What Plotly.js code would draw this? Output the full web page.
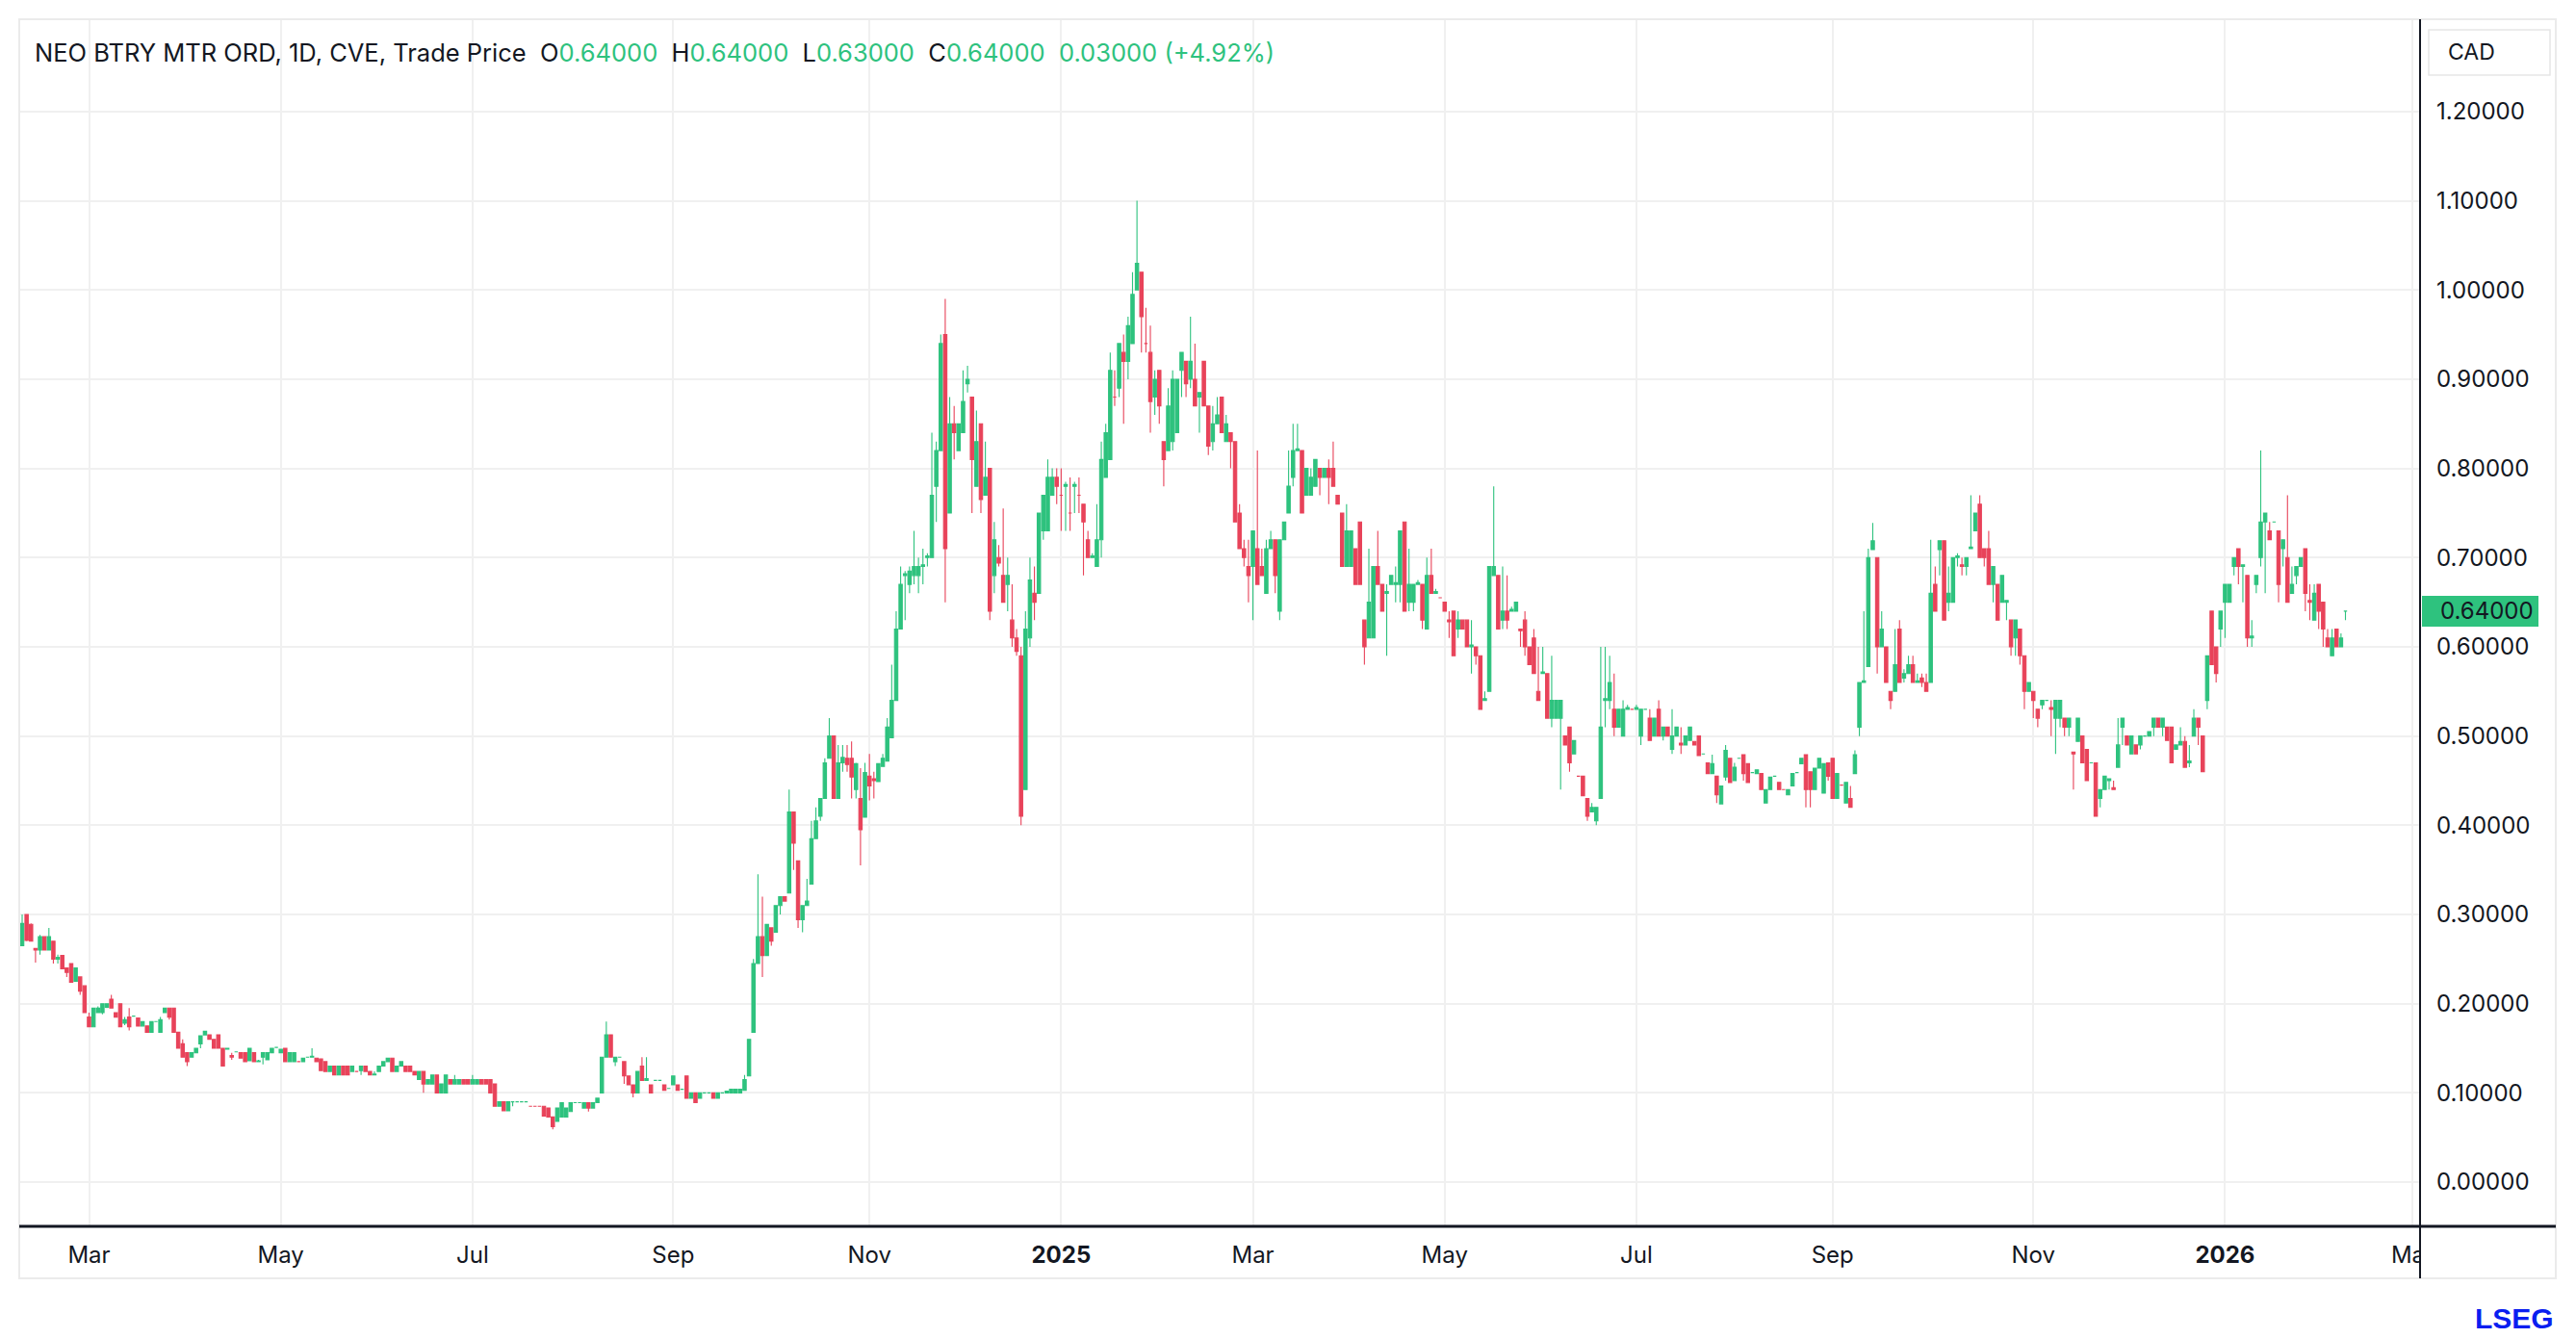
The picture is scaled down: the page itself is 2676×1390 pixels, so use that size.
<!DOCTYPE html>
<html>
<head>
<meta charset="utf-8">
<script src="https://cdn.plot.ly/plotly-3.0.1.min.js"></script>
<style>
  html, body { margin: 0; padding: 0; background: #ffffff; }
  #chart { width: 2676px; height: 1390px; }
</style>
</head>
<body>
<div id="chart"></div>
<script>
// ---------------- DATA (daily candles, one value per trading day, from 2024-02-09) ----------------
const symbolName = 'NEO BTRY MTR ORD';
const interval = '1D';
const exchange = 'CVE';
const priceType = 'Trade Price';
const currency = 'CAD';
const firstTradingDay = '2024-02-09';

const openPrices = [
  /*2024-02*/ .265,.30,.289,.262,.26,.275,.26,.27,.25,.254,.24,.245,.225,.23,.22,
  /*2024-03*/ .185,.174,.19,.19,.196,.205,.19,.20,.178,.185,.186,.184,.175,.175,.168,.18,.168,.19,.195,.195,.168,
  /*2024-04*/ .155,.145,.14,.145,.155,.165,.165,.16,.165,.15,.149,.142,.146,.145,.145,.136,.145,.135,.14,.137,.145,.151,
  /*2024-05*/ .145,.15,.135,.135,.135,.135,.14,.14,.139,.138,.135,.124,.13,.12,.13,.13,.124,.124,.125,.13,.124,.12,.124,
  /*2024-06*/ .13,.135,.139,.124,.13,.13,.13,.124,.115,.124,.11,.11,.12,.10,.10,.115,.11,.11,.115,.115,
  /*2024-07*/ .11,.11,.115,.115,.115,.11,.085,.09,.08,.09,.09,.09,.09,.085,.085,.085,.085,.083,.073,.068,.073,.073,.079,
  /*2024-08*/ .089,.089,.083,.089,.083,.089,.10,.14,.165,.135,.14,.135,.119,.109,.10,.13,.114,.109,.114,.114,.109,.105,
  /*2024-09*/ .109,.109,.104,.119,.094,.10,.094,.10,.10,.10,.094,.10,.10,.10,.10,.10,.103,.119,.168,.245,.275,
  /*2024-10*/ .254,.285,.28,.31,.32,.324,.415,.36,.294,.31,.334,.385,.41,.43,.475,.50,.43,.47,.475,.475,.44,.43,.409,
  /*2024-11*/ .455,.452,.449,.466,.472,.498,.54,.62,.68,.67,.68,.68,.69,.70,.70,.78,.82,.95,.75,.85,.82,
  /*2024-12*/ .84,.895,.88,.78,.85,.77,.80,.68,.70,.68,.67,.63,.61,.59,.44,.61,.66,.66,.73,.73,.77,.79,
  /*2025-01*/ .77,.78,.75,.78,.77,.76,.72,.70,.69,.72,.79,.81,.88,.89,.93,.92,.94,1.0,1.02,.94,.93,.88,.91,
  /*2025-02*/ .83,.82,.83,.84,.91,.92,.90,.90,.88,.92,.87,.83,.85,.88,.83,.84,.83,.75,.71,.69,
  /*2025-03*/ .69,.71,.69,.66,.71,.72,.64,.72,.75,.79,.82,.82,.77,.77,.78,.80,.79,.80,.80,.77,.75,
  /*2025-04*/ .69,.69,.71,.74,.63,.61,.61,.69,.67,.66,.67,.67,.67,.74,.65,.65,.67,.67,.62,.68,.66,.655,
  /*2025-05*/ .65,.63,.64,.62,.63,.63,.60,.60,.59,.54,.55,.68,.68,.63,.64,.64,.64,.62,.63,.60,.61,.55,
  /*2025-06*/ .57,.57,.52,.52,.52,.50,.51,.48,.455,.455,.43,.415,.405,.43,.54,.54,.53,.51,.50,.53,.53,
  /*2025-07*/ .53,.50,.53,.52,.50,.53,.50,.51,.485,.50,.492,.49,.495,.494,.50,.48,.47,.458,.455,.424,.454,.475,.45,
  /*2025-08*/ .475,.479,.469,.459,.458,.458,.425,.44,.455,.448,.44,.434,.444,.459,.469,.479,.46,.44,.464,.436,.47,
  /*2025-09*/ .475,.43,.445,.425,.43,.458,.51,.56,.578,.709,.70,.60,.60,.55,.55,.62,.565,.57,.58,.56,.565,.56,
  /*2025-10*/ .56,.67,.709,.719,.65,.65,.70,.692,.69,.71,.73,.76,.71,.71,.67,.67,.65,.65,.63,.61,.62,.59,.55,
  /*2025-11*/ .55,.53,.535,.54,.532,.52,.52,.52,.51,.482,.494,.50,.485,.47,.47,.43,.44,.45,.442,.465,
  /*2025-12*/ .51,.50,.48,.49,.49,.50,.50,.51,.52,.51,.51,.51,.485,.49,.494,.47,.50,.52,.50,.54,.64,.60,.62,
  /*2026-01*/ .65,.65,.69,.71,.69,.68,.61,.67,.70,.74,.73,.74,.73,.71,.70,.66,.68,.69,.71,.652,.63,.67,
  /*2026-02*/ .65,.61,.59,.62,.60,.64
];

const highPrices = [
  /*2024-02*/ .30,.30,.29,.262,.277,.275,.285,.27,.255,.254,.24,.245,.24,.23,.22,
  /*2024-03*/ .19,.195,.197,.20,.20,.21,.19,.20,.185,.195,.186,.184,.18,.175,.18,.18,.185,.195,.195,.195,.168,
  /*2024-04*/ .16,.145,.145,.15,.164,.169,.165,.16,.165,.15,.15,.145,.146,.145,.145,.15,.145,.137,.145,.145,.15,.151,
  /*2024-05*/ .149,.15,.145,.145,.135,.139,.14,.15,.139,.138,.135,.13,.13,.13,.13,.13,.13,.124,.13,.13,.124,.124,.13,
  /*2024-06*/ .135,.139,.139,.13,.135,.13,.13,.124,.124,.124,.115,.12,.12,.11,.12,.115,.12,.115,.115,.115,
  /*2024-07*/ .12,.115,.115,.115,.115,.11,.09,.09,.09,.09,.09,.09,.09,.085,.085,.085,.085,.083,.073,.083,.089,.083,.089,
  /*2024-08*/ .089,.089,.089,.089,.089,.094,.14,.18,.165,.14,.14,.135,.119,.109,.124,.14,.14,.109,.114,.114,.109,.105,
  /*2024-09*/ .119,.109,.104,.119,.10,.10,.10,.10,.10,.10,.10,.10,.102,.104,.104,.104,.12,.16,.25,.345,.32,
  /*2024-10*/ .289,.285,.31,.32,.32,.44,.415,.36,.31,.34,.405,.42,.43,.475,.52,.50,.49,.49,.49,.494,.47,.464,.47,
  /*2024-11*/ .48,.46,.469,.48,.52,.58,.64,.69,.685,.69,.73,.70,.71,.705,.84,.83,.95,.99,.88,.87,.85,
  /*2024-12*/ .91,.915,.88,.865,.85,.83,.80,.74,.714,.755,.70,.67,.62,.60,.64,.70,.69,.75,.77,.81,.80,.80,
  /*2025-01*/ .80,.785,.79,.785,.79,.76,.73,.705,.76,.83,.85,.93,.91,.94,.95,.97,1.02,1.10,1.02,.98,.96,.91,.91,
  /*2025-02*/ .83,.89,.91,.90,.93,.92,.97,.94,.885,.92,.87,.87,.88,.88,.86,.84,.83,.76,.72,.72,
  /*2025-03*/ .73,.82,.71,.72,.73,.72,.72,.74,.82,.85,.85,.82,.80,.80,.81,.80,.80,.81,.83,.77,.75,
  /*2025-04*/ .76,.73,.71,.74,.63,.71,.69,.73,.67,.67,.68,.69,.73,.74,.71,.67,.675,.67,.70,.71,.665,.655,
  /*2025-05*/ .65,.64,.64,.64,.63,.63,.63,.60,.59,.55,.69,.78,.68,.69,.68,.645,.65,.62,.64,.60,.62,.60,
  /*2025-06*/ .60,.57,.59,.54,.54,.50,.51,.495,.455,.455,.43,.425,.42,.60,.60,.59,.57,.53,.54,.535,.53,
  /*2025-07*/ .535,.53,.53,.53,.52,.54,.51,.51,.53,.51,.51,.50,.51,.494,.50,.48,.47,.479,.455,.444,.49,.475,.47,
  /*2025-08*/ .475,.479,.469,.459,.462,.458,.44,.454,.455,.448,.44,.44,.458,.459,.475,.479,.46,.464,.475,.469,.47,
  /*2025-09*/ .475,.458,.445,.448,.444,.484,.56,.64,.71,.739,.70,.64,.60,.55,.62,.63,.575,.59,.59,.57,.57,.57,
  /*2025-10*/ .72,.69,.719,.719,.69,.70,.705,.70,.70,.77,.75,.77,.71,.73,.69,.67,.68,.652,.63,.63,.62,.59,.56,
  /*2025-11*/ .55,.53,.54,.54,.54,.54,.54,.52,.52,.482,.52,.50,.485,.47,.47,.44,.455,.452,.45,.52,
  /*2025-12*/ .52,.50,.50,.49,.50,.50,.505,.52,.52,.52,.51,.51,.49,.51,.50,.49,.53,.52,.50,.59,.64,.60,.64,
  /*2026-01*/ .67,.67,.70,.71,.692,.68,.63,.68,.82,.75,.74,.74,.73,.72,.77,.69,.69,.70,.71,.67,.67,.67,
  /*2026-02*/ .65,.62,.62,.62,.615,.64
];

const lowPrices = [
  /*2024-02*/ .265,.27,.27,.246,.255,.26,.26,.245,.245,.239,.23,.224,.225,.21,.19,
  /*2024-03*/ .174,.174,.19,.188,.195,.195,.185,.174,.176,.17,.186,.175,.175,.168,.168,.18,.168,.19,.182,.168,.15,
  /*2024-04*/ .14,.13,.14,.145,.15,.165,.16,.15,.15,.13,.149,.137,.146,.139,.135,.136,.135,.135,.132,.137,.145,.151,
  /*2024-05*/ .145,.135,.135,.135,.135,.135,.14,.14,.135,.125,.124,.124,.12,.12,.12,.12,.124,.124,.12,.124,.12,.12,.124,
  /*2024-06*/ .13,.135,.124,.124,.13,.124,.124,.12,.115,.10,.11,.11,.10,.10,.10,.11,.11,.11,.11,.11,
  /*2024-07*/ .11,.11,.11,.11,.10,.085,.085,.08,.08,.085,.09,.09,.09,.085,.085,.085,.074,.073,.059,.068,.073,.073,.079,
  /*2024-08*/ .089,.089,.083,.079,.083,.089,.10,.14,.14,.13,.14,.11,.109,.095,.10,.114,.114,.10,.114,.114,.103,.105,
  /*2024-09*/ .109,.103,.104,.094,.094,.089,.094,.10,.10,.094,.094,.10,.10,.10,.10,.10,.103,.119,.168,.245,.23,
  /*2024-10*/ .254,.265,.28,.30,.315,.324,.35,.285,.28,.31,.334,.385,.405,.43,.475,.43,.43,.46,.46,.43,.43,.355,.409,
  /*2024-11*/ .428,.43,.449,.466,.472,.498,.54,.62,.63,.66,.67,.66,.67,.69,.70,.74,.82,.65,.75,.81,.82,
  /*2024-12*/ .84,.885,.75,.78,.75,.77,.63,.66,.69,.65,.64,.60,.59,.40,.44,.60,.63,.66,.72,.73,.77,.76,
  /*2025-01*/ .73,.73,.73,.75,.75,.68,.70,.70,.69,.70,.79,.81,.87,.88,.85,.90,.94,1.0,.93,.93,.84,.86,.85,
  /*2025-02*/ .78,.82,.82,.84,.88,.88,.89,.87,.84,.87,.815,.82,.85,.84,.83,.80,.74,.71,.69,.65,
  /*2025-03*/ .63,.67,.68,.66,.71,.66,.63,.72,.75,.78,.82,.75,.77,.77,.78,.77,.79,.76,.78,.76,.69,
  /*2025-04*/ .69,.69,.67,.67,.58,.61,.61,.67,.64,.59,.67,.65,.65,.64,.64,.64,.67,.62,.62,.66,.66,.655,
  /*2025-05*/ .64,.61,.59,.61,.62,.60,.57,.58,.53,.54,.55,.68,.62,.62,.62,.64,.64,.60,.59,.58,.57,.54,
  /*2025-06*/ .57,.52,.51,.52,.44,.49,.46,.48,.455,.433,.405,.415,.40,.43,.51,.53,.50,.51,.50,.53,.53,
  /*2025-07*/ .53,.49,.53,.495,.50,.50,.495,.50,.48,.50,.48,.49,.495,.49,.478,.48,.458,.458,.425,.424,.45,.448,.45,
  /*2025-08*/ .475,.45,.448,.459,.458,.44,.425,.44,.455,.44,.44,.434,.444,.459,.469,.42,.42,.44,.464,.436,.45,
  /*2025-09*/ .43,.43,.445,.425,.42,.458,.50,.56,.578,.709,.57,.60,.56,.53,.55,.56,.56,.57,.56,.56,.555,.55,
  /*2025-10*/ .56,.64,.68,.63,.64,.65,.69,.68,.68,.71,.73,.70,.69,.67,.65,.63,.65,.63,.59,.59,.58,.53,.55,
  /*2025-11*/ .52,.51,.53,.54,.50,.48,.51,.50,.50,.44,.494,.47,.45,.47,.41,.42,.44,.44,.44,.465,
  /*2025-12*/ .49,.49,.48,.48,.485,.50,.50,.50,.51,.50,.495,.47,.485,.49,.465,.465,.50,.49,.46,.53,.58,.56,.60,
  /*2026-01*/ .61,.65,.68,.67,.65,.60,.60,.66,.69,.66,.72,.74,.65,.69,.65,.66,.67,.69,.64,.63,.63,.62,
  /*2026-02*/ .60,.60,.59,.60,.60,.63
];

const closePrices = [
  /*2024-02*/ .29,.271,.27,.26,.275,.26,.275,.25,.252,.239,.235,.224,.24,.214,.19,
  /*2024-03*/ .174,.195,.195,.20,.20,.195,.185,.174,.182,.174,.186,.175,.18,.168,.18,.18,.182,.195,.185,.168,.15,
  /*2024-04*/ .14,.135,.145,.15,.164,.169,.16,.15,.15,.13,.15,.14,.146,.139,.135,.15,.135,.136,.145,.145,.15,.151,
  /*2024-05*/ .149,.135,.145,.145,.135,.139,.14,.141,.135,.125,.124,.13,.12,.13,.12,.12,.13,.124,.13,.124,.12,.121,.13,
  /*2024-06*/ .135,.139,.124,.13,.135,.124,.124,.12,.124,.11,.115,.12,.10,.11,.12,.11,.115,.115,.11,.11,
  /*2024-07*/ .115,.115,.11,.11,.10,.085,.09,.08,.09,.09,.09,.09,.09,.085,.085,.085,.074,.073,.062,.083,.089,.083,.089,
  /*2024-08*/ .089,.089,.089,.083,.089,.094,.14,.165,.14,.14,.14,.119,.109,.10,.124,.114,.116,.10,.114,.114,.103,.105,
  /*2024-09*/ .119,.103,.104,.094,.10,.089,.10,.10,.10,.094,.10,.10,.102,.104,.104,.104,.115,.16,.245,.275,.254,
  /*2024-10*/ .289,.27,.31,.32,.315,.415,.38,.294,.31,.315,.385,.405,.43,.47,.50,.43,.47,.476,.468,.454,.469,.395,.459,
  /*2024-11*/ .444,.45,.469,.475,.51,.54,.62,.67,.682,.685,.69,.69,.692,.702,.77,.82,.94,.71,.85,.84,.85,
  /*2024-12*/ .875,.90,.81,.83,.765,.79,.64,.72,.694,.65,.68,.61,.595,.41,.62,.675,.65,.75,.77,.79,.79,.78,
  /*2025-01*/ .77,.782,.75,.782,.77,.74,.70,.702,.72,.81,.84,.91,.88,.94,.92,.96,.995,1.03,.97,.94,.875,.90,.87,
  /*2025-02*/ .81,.87,.90,.90,.93,.895,.92,.87,.885,.87,.825,.85,.86,.84,.85,.83,.74,.71,.70,.68,
  /*2025-03*/ .73,.67,.68,.71,.72,.68,.72,.74,.78,.82,.822,.75,.80,.79,.81,.79,.80,.79,.78,.76,.69,
  /*2025-04*/ .73,.73,.67,.67,.60,.65,.69,.67,.64,.662,.68,.672,.73,.64,.67,.67,.672,.63,.68,.66,.662,.655,
  /*2025-05*/ .64,.628,.59,.63,.62,.60,.602,.59,.53,.542,.69,.69,.62,.64,.63,.642,.65,.618,.60,.58,.57,.54,
  /*2025-06*/ .572,.52,.54,.54,.54,.49,.47,.495,.455,.433,.41,.42,.42,.51,.542,.56,.51,.53,.53,.532,.53,
  /*2025-07*/ .532,.53,.53,.495,.52,.50,.51,.50,.50,.51,.49,.50,.51,.49,.478,.48,.458,.469,.434,.444,.484,.448,.465,
  /*2025-08*/ .475,.458,.448,.459,.462,.44,.44,.454,.455,.44,.44,.44,.458,.459,.475,.44,.44,.464,.475,.469,.455,
  /*2025-09*/ .43,.458,.445,.448,.42,.479,.56,.562,.70,.719,.60,.62,.56,.54,.58,.56,.57,.58,.56,.562,.56,.55,
  /*2025-10*/ .66,.64,.719,.63,.66,.70,.702,.69,.70,.712,.75,.70,.70,.67,.69,.63,.68,.652,.60,.63,.59,.55,.56,
  /*2025-11*/ .54,.52,.54,.54,.53,.54,.54,.51,.52,.48,.52,.47,.45,.47,.41,.44,.455,.452,.44,.49,
  /*2025-12*/ .52,.49,.50,.48,.50,.50,.505,.52,.51,.52,.495,.47,.49,.494,.465,.472,.52,.51,.46,.59,.58,.57,.64,
  /*2026-01*/ .67,.67,.70,.69,.692,.61,.612,.68,.74,.75,.72,.74,.67,.72,.65,.67,.69,.70,.66,.65,.66,.64,
  /*2026-02*/ .62,.60,.61,.60,.61,.64
];

// axis ticks
const xTickDates  = ['2024-03-01','2024-05-01','2024-07-01','2024-09-02','2024-11-01','2025-01-01',
                     '2025-03-03','2025-05-01','2025-07-01','2025-09-01','2025-11-03','2026-01-01','2026-03-02'];
const xTickLabels = ['Mar','May','Jul','Sep','Nov','<b>2025</b>','Mar','May','Jul','Sep','Nov','<b>2026</b>','Mar'];
const yTickVals   = [0,0.1,0.2,0.3,0.4,0.5,0.6,0.7,0.8,0.9,1.0,1.1,1.2];

// ---------------- STYLE ----------------
const GREEN = '#2EC27E';
const RED = '#E8435A';
const TEXT = '#131722';
const FONT = 'Inter, Roboto, "Liberation Sans", sans-serif';

// trading-day dates (weekdays) for the candles, placed at mid-day
function tradingDays(start, count) {
  const out = [];
  const d = new Date(start + 'T00:00:00Z');
  while (out.length < count) {
    const w = d.getUTCDay();
    if (w !== 0 && w !== 6) out.push(d.toISOString().slice(0, 10) + ' 12:00');
    d.setUTCDate(d.getUTCDate() + 1);
  }
  return out;
}
const n = closePrices.length;
const dates = tradingDays(firstTradingDay, n);

const lastO = openPrices[n - 1], lastH = highPrices[n - 1], lastL = lowPrices[n - 1], lastC = closePrices[n - 1];
const chg = lastC - closePrices[n - 2];
const pct = chg / closePrices[n - 2] * 100;
const g = s => `<span style="color:${GREEN}">${s}</span>`;
const sp = '\u00A0\u00A0';
const header = `${symbolName}, ${interval}, ${exchange}, ${priceType}${sp}O${g(lastO.toFixed(5))}${sp}H${g(lastH.toFixed(5))}${sp}L${g(lastL.toFixed(5))}${sp}C${g(lastC.toFixed(5))}${sp}${g(chg.toFixed(5) + ' (' + (chg >= 0 ? '+' : '') + pct.toFixed(2) + '%)')}`;

const trace = {
  type: 'candlestick',
  x: dates, open: openPrices, high: highPrices, low: lowPrices, close: closePrices,
  increasing: { line: { color: GREEN, width: 1.1 }, fillcolor: GREEN },
  decreasing: { line: { color: RED, width: 1.1 }, fillcolor: RED },
  whiskerwidth: 0,
  hoverinfo: 'skip',
  showlegend: false
};

// pixel helpers for decorations (plot area: x 20..2514, y 20..1274)
const PL = 20, PR = 2514, PT = 20, PB = 1274;
const px = x => (x - PL) / (PR - PL);
const py = y => (PB - y) / (PB - PT);
const yUnitsPerPx = 1.353 / (PB - PT);

const layout = {
  width: 2676, height: 1390,
  margin: { l: PL, r: 2676 - PR, t: PT, b: 1390 - PB, pad: 0 },
  paper_bgcolor: '#ffffff', plot_bgcolor: '#ffffff',
  font: { family: FONT, size: 24, color: TEXT },
  showlegend: false,
  hovermode: false,
  boxgap: 0.2,
  boxgroupgap: 0.08,
  title: {
    text: header,
    x: px(36), xref: 'paper', xanchor: 'left',
    y: py(55), yref: 'paper', yanchor: 'middle',
    font: { family: FONT, size: 25.5, color: TEXT }
  },
  xaxis: {
    type: 'date',
    range: ['2024-02-08 20:24', '2026-03-04 05:30'],
    rangebreaks: [{ bounds: ['sat', 'mon'] }],
    rangeslider: { visible: false },
    tickmode: 'array',
    tickvals: xTickDates.map(d => d + ' 12:00'),
    ticktext: xTickLabels,
    ticks: '',
    ticklabelstandoff: 13,
    tickfont: { family: FONT, size: 24, color: TEXT },
    showgrid: true, gridcolor: '#F0F0F0', gridwidth: 2,
    showline: false, zeroline: false, fixedrange: true
  },
  yaxis: {
    side: 'right',
    range: [-0.0496, 1.3035],
    tickmode: 'array',
    tickvals: yTickVals,
    tickformat: '.5f',
    ticks: '',
    ticklabelstandoff: 16,
    tickfont: { family: FONT, size: 24, color: TEXT },
    showgrid: true, gridcolor: '#F0F0F0', gridwidth: 2,
    showline: false, zeroline: false, fixedrange: true
  },
  shapes: [
    // outer light frame
    { type: 'rect', xref: 'paper', yref: 'paper', x0: 0, x1: px(2655), y0: py(1328), y1: 1,
      line: { color: '#EBEBEB', width: 2 }, fillcolor: 'rgba(0,0,0,0)', layer: 'above' },
    // white cover clipping the last month label behind the price scale
    { type: 'rect', xref: 'paper', yref: 'paper', x0: px(2515), x1: px(2654), y0: py(1327), y1: py(1276),
      line: { width: 0 }, fillcolor: '#ffffff', layer: 'above' },
    // price scale border (vertical)
    { type: 'line', xref: 'paper', yref: 'paper', x0: 1, x1: 1, y0: py(1328), y1: 1,
      line: { color: TEXT, width: 2 }, layer: 'above' },
    // time scale border (horizontal)
    { type: 'line', xref: 'paper', yref: 'paper', x0: 0, x1: px(2655), y0: 0, y1: 0,
      line: { color: TEXT, width: 3 }, layer: 'above' },
    // currency box
    { type: 'rect', xref: 'paper', yref: 'paper', x0: px(2523), x1: px(2649), y0: py(78), y1: py(31),
      line: { color: '#E6E6E6', width: 1.5 }, fillcolor: '#ffffff', layer: 'above' },
    // last price tag
    { type: 'rect', xref: 'paper', yref: 'y', x0: px(2516), x1: px(2637),
      y0: lastC - 16 * yUnitsPerPx, y1: lastC + 16 * yUnitsPerPx,
      line: { width: 0 }, fillcolor: GREEN, layer: 'above' }
  ],
  annotations: [
    { xref: 'paper', yref: 'paper', x: px(2541), y: py(54), xanchor: 'left', yanchor: 'middle',
      text: currency, showarrow: false, font: { family: FONT, size: 23, color: TEXT } },
    { xref: 'paper', yref: 'y', x: px(2533), y: lastC, xanchor: 'left', yanchor: 'middle',
      text: lastC.toFixed(5), showarrow: false, font: { family: FONT, size: 24, color: TEXT } },
    { xref: 'paper', yref: 'paper', x: px(2655), y: py(1369), xanchor: 'right', yanchor: 'middle',
      text: '<b>LSEG</b>', showarrow: false, font: { family: '"Liberation Sans", Arial, sans-serif', size: 30, color: '#0A1EF0' } }
  ]
};

Plotly.newPlot('chart', [trace], layout, { staticPlot: true, displayModeBar: false, responsive: false });
</script>
</body>
</html>
